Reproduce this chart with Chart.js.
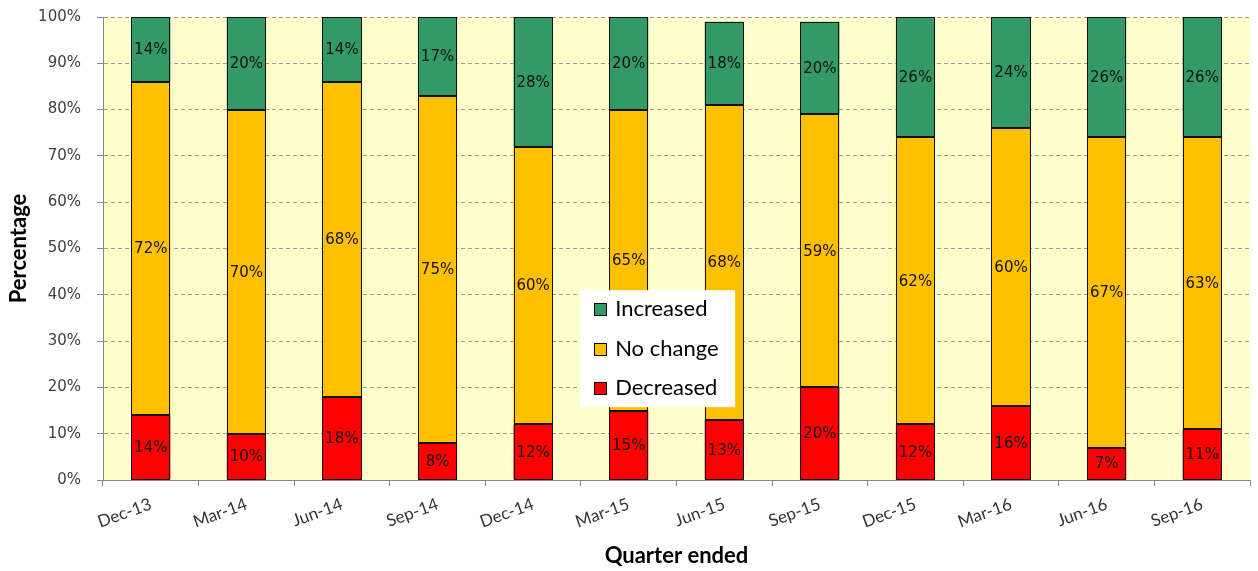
<!DOCTYPE html>
<html>
<head>
<meta charset="utf-8">
<script src="https://cdn.jsdelivr.net/npm/chart.js@4"></script>
<style>
  html, body { margin: 0; padding: 0; background: #ffffff; }
  #wrap { width: 1258px; height: 571px; }
</style>
</head>
<body>
<div id="wrap"><canvas id="c" width="1258" height="571"></canvas></div>
<script>
// Quarterly survey shares (%)
const quarters = ['Dec-13','Mar-14','Jun-14','Sep-14','Dec-14','Mar-15','Jun-15','Sep-15','Dec-15','Mar-16','Jun-16','Sep-16'];
const decreased = [14, 10, 18, 8, 12, 15, 13, 20, 12, 16, 7, 11];
const noChange  = [72, 70, 68, 75, 60, 65, 68, 59, 62, 60, 67, 63];
const increased = [14, 20, 14, 17, 28, 20, 18, 20, 26, 24, 26, 26];
const yTicks = [0, 10, 20, 30, 40, 50, 60, 70, 80, 90, 100];

// Pale fill behind the plot area
const plotBackground = {
  id: 'plotBackground',
  beforeDraw(chart) {
    const { ctx, chartArea: a } = chart;
    ctx.save();
    ctx.fillStyle = '#FFFFCC';
    ctx.fillRect(a.left, a.top, a.right - a.left, a.bottom - a.top);
    ctx.restore();
  }
};

// Crisp dark outline round every segment, then its percentage label
const segmentLabels = {
  id: 'segmentLabels',
  afterDatasetsDraw(chart) {
    const { ctx } = chart;
    ctx.save();
    ctx.strokeStyle = '#111111';
    ctx.lineWidth = 1;
    chart.data.datasets.forEach((ds, i) => {
      chart.getDatasetMeta(i).data.forEach(bar => {
        const p = bar.getProps(['x', 'y', 'base', 'width'], true);
        const l = Math.round(p.x - p.width / 2) + 0.5;
        const r = Math.round(p.x + p.width / 2) - 0.5;
        const t = Math.round(Math.min(p.y, p.base)) + 0.5;
        const b = Math.round(Math.max(p.y, p.base)) - 0.5;
        ctx.strokeRect(l, t, r - l, b - t);
      });
    });
    ctx.font = '15px "DejaVu Sans"';
    ctx.fillStyle = '#111111';
    ctx.textAlign = 'center';
    ctx.textBaseline = 'middle';
    chart.data.datasets.forEach((ds, i) => {
      chart.getDatasetMeta(i).data.forEach((bar, j) => {
        const p = bar.getProps(['x', 'y', 'base'], true);
        ctx.fillText(ds.data[j] + '%', p.x, (p.y + p.base) / 2 + 1);
      });
    });
    ctx.restore();
  }
};

// Boxed legend sitting inside the plot area
const innerLegend = {
  id: 'innerLegend',
  afterDraw(chart) {
    const { ctx, chartArea: a } = chart;
    const w = a.right - a.left, h = a.bottom - a.top;
    const x0 = a.left + w * 0.416, y0 = a.top + h * 0.59;
    const bw = 155, bh = 117;
    ctx.save();
    ctx.fillStyle = '#ffffff';
    ctx.fillRect(x0, y0, bw, bh);
    ctx.font = '22px Lato';
    ctx.textBaseline = 'middle';
    const items = chart.data.datasets.slice().reverse();
    items.forEach((ds, k) => {
      const cy = Math.round(y0 + 19 + k * 39.5);
      const sx = Math.round(x0 + 14);
      ctx.fillStyle = ds.backgroundColor;
      ctx.fillRect(sx, cy - 6, 13, 13);
      ctx.strokeStyle = '#000';
      ctx.lineWidth = 1;
      ctx.strokeRect(sx + 0.5, cy - 5.5, 12, 12);
      ctx.fillStyle = '#000';
      ctx.fillText(ds.label, x0 + 35, cy);
    });
    ctx.restore();
  }
};

const barCommon = { borderWidth: 0, barPercentage: 0.41, categoryPercentage: 1 };

new Chart(document.getElementById('c'), {
  type: 'bar',
  data: {
    labels: quarters,
    datasets: [
      Object.assign({ label: 'Decreased', data: decreased, backgroundColor: '#FF0000' }, barCommon),
      Object.assign({ label: 'No change', data: noChange, backgroundColor: '#FFC000' }, barCommon),
      Object.assign({ label: 'Increased', data: increased, backgroundColor: '#339966' }, barCommon)
    ]
  },
  options: {
    responsive: false,
    animation: false,
    layout: { padding: { left: 6, right: 8, top: 17, bottom: 2 } },
    plugins: {
      legend: { display: false },
      tooltip: { enabled: false }
    },
    scales: {
      x: {
        stacked: true,
        offset: true,
        grid: { display: true, drawOnChartArea: false, offset: true, color: '#868686', tickLength: 6 },
        border: { color: '#868686', width: 1 },
        ticks: { color: '#333333', font: { family: 'Lato', size: 17 }, minRotation: 20, maxRotation: 20, padding: 8 },
        title: { display: true, text: 'Quarter ended', color: '#000', font: { family: 'Lato', size: 22, weight: 'bold' }, padding: { top: 0, bottom: 0 } },
        afterFit(s) { s.height = 89; }
      },
      y: {
        stacked: true,
        min: 0,
        max: 100,
        afterBuildTicks(s) { s.ticks = yTicks.map(v => ({ value: v })); },
        grid: { color: '#9a9a9a', tickLength: 6, tickColor: '#868686' },
        border: { color: '#868686', width: 1, dash: [4, 3] },
        ticks: { color: '#404040', font: { family: '"DejaVu Sans"', size: 15 }, padding: 16, callback: v => v + '%' },
        title: { display: true, text: 'Percentage', color: '#000', font: { family: 'Lato', size: 22, weight: 'bold' }, padding: { top: 0, bottom: 0 } },
        afterFit(s) { s.width = 97; s.paddingTop = 0; s.paddingBottom = 0; }
      }
    }
  },
  plugins: [plotBackground, segmentLabels, innerLegend]
});
</script>
</body>
</html>
